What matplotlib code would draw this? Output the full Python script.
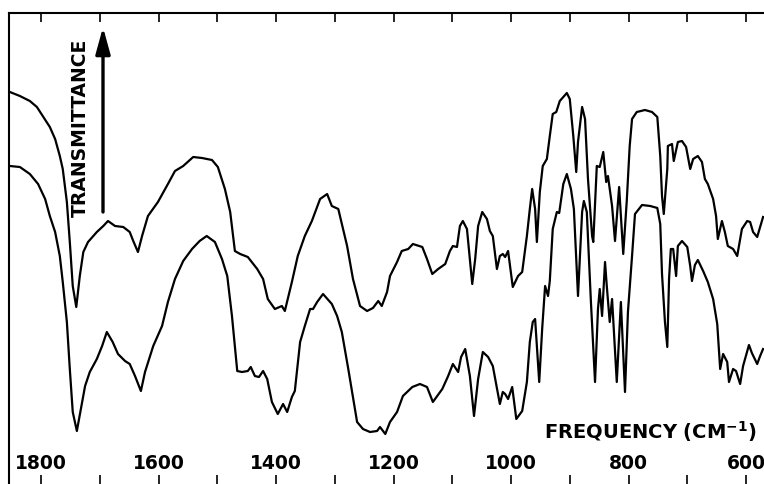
"""
IR spectra, two samples, transmittance vs frequency
"""
import matplotlib
matplotlib.use('Agg')
from matplotlib import pyplot as plt
from matplotlib.ticker import MultipleLocator

# upper trace: frequency (cm-1) and relative transmittance (arb. units)
upper_wn = [1853, 1836, 1819, 1807, 1797, 1785, 1776, 1768, 1763, 1756, 1751, 1746, 1740, 1734, 1728, 1720,
            1705, 1694, 1686, 1674, 1660, 1649, 1643, 1635, 1628, 1618, 1601, 1584, 1572, 1558, 1541, 1526,
            1509, 1499, 1487, 1478, 1470, 1461, 1448, 1436, 1432, 1422, 1414, 1402, 1390, 1385, 1373, 1363,
            1351, 1339, 1325, 1313, 1305, 1294, 1279, 1269, 1257, 1245, 1235, 1226, 1220, 1211, 1206, 1194,
            1186, 1175, 1167, 1151, 1143, 1134, 1124, 1112, 1104, 1099, 1092, 1087, 1082, 1075, 1066, 1061,
            1056, 1049, 1041, 1036, 1031, 1024, 1019, 1014, 1010, 1005, 997, 988, 981, 973, 968, 964,
            959, 956, 951, 946, 939, 934, 929, 923, 917, 905, 900, 894, 889, 886, 879, 874,
            869, 862, 860, 854, 849, 843, 838, 835, 828, 823, 816, 809, 803, 798, 794, 786,
            772, 760, 751, 746, 743, 740, 734, 733, 726, 723, 716, 709, 702, 695, 690, 682,
            675, 670, 665, 656, 651, 648, 641, 636, 631, 622, 615, 607, 598, 593, 588, 581,
            576, 571]
upper_t = [392, 388, 383, 377, 368, 357, 345, 328, 315, 282, 242, 198, 177, 208, 232, 242,
           252, 258, 263, 258, 257, 252, 243, 232, 248, 268, 282, 300, 313, 318, 327, 326,
           324, 317, 295, 272, 233, 230, 227, 218, 215, 205, 185, 175, 178, 173, 202, 228,
           248, 263, 285, 290, 278, 275, 238, 205, 178, 173, 176, 183, 178, 192, 208, 222,
           233, 235, 240, 237, 225, 210, 215, 220, 233, 238, 237, 258, 263, 255, 200, 225,
           258, 272, 265, 253, 248, 215, 228, 230, 227, 233, 197, 208, 212, 248, 275, 295,
           275, 242, 292, 318, 325, 348, 370, 372, 383, 391, 385, 348, 312, 342, 377, 365,
           305, 248, 242, 318, 317, 332, 302, 308, 278, 243, 297, 230, 283, 338, 365, 372,
           374, 372, 367, 328, 288, 270, 315, 338, 340, 323, 342, 343, 337, 315, 325, 328,
           322, 305, 300, 285, 268, 245, 263, 252, 238, 235, 228, 255, 263, 262, 252, 247,
           257, 267]

# lower trace
lower_wn = [1853, 1836, 1819, 1805, 1793, 1785, 1776, 1768, 1763, 1756, 1751, 1746, 1739, 1730, 1725, 1717,
            1705, 1696, 1688, 1678, 1669, 1657, 1649, 1640, 1630, 1623, 1609, 1594, 1584, 1572, 1558, 1543,
            1530, 1518, 1504, 1492, 1483, 1475, 1466, 1458, 1448, 1443, 1436, 1429, 1422, 1415, 1407, 1397,
            1388, 1381, 1373, 1368, 1359, 1351, 1342, 1337, 1330, 1320, 1305, 1296, 1288, 1277, 1262, 1252,
            1240, 1228, 1223, 1214, 1206, 1194, 1184, 1168, 1155, 1143, 1133, 1117, 1107, 1099, 1090, 1085,
            1078, 1070, 1063, 1056, 1048, 1039, 1031, 1019, 1014, 1010, 1005, 998, 991, 981, 973, 968,
            963, 959, 952, 947, 942, 937, 934, 929, 922, 918, 911, 905, 898, 893, 886, 879,
            876, 871, 864, 857, 852, 849, 845, 840, 837, 832, 828, 820, 813, 806, 801, 794,
            789, 777, 763, 751, 746, 743, 738, 734, 731, 728, 724, 719, 716, 709, 700, 695,
            692, 687, 682, 673, 665, 656, 649, 644, 639, 632, 629, 622, 617, 610, 605, 595,
            590, 581, 576, 571]
lower_t = [318, 317, 310, 300, 285, 268, 252, 228, 202, 162, 115, 72, 53, 82, 98, 112,
           125, 138, 152, 142, 130, 123, 120, 108, 93, 112, 138, 158, 182, 205, 223, 235,
           243, 248, 242, 225, 208, 168, 113, 112, 113, 117, 108, 107, 113, 105, 82, 70,
           80, 72, 87, 93, 142, 158, 175, 175, 182, 190, 180, 168, 152, 115, 62, 55,
           52, 53, 57, 50, 62, 72, 88, 97, 100, 97, 82, 95, 108, 120, 112, 127,
           135, 108, 68, 105, 132, 127, 118, 80, 92, 90, 85, 97, 65, 73, 102, 142,
           162, 165, 102, 155, 198, 188, 203, 255, 272, 271, 300, 310, 295, 275, 188, 272,
           283, 272, 182, 102, 175, 195, 168, 222, 198, 162, 185, 102, 182, 92, 172, 228,
           270, 279, 278, 276, 260, 210, 162, 137, 205, 235, 235, 208, 238, 243, 237, 218,
           203, 219, 224, 213, 202, 185, 160, 115, 130, 122, 102, 115, 113, 100, 118, 139,
           131, 120, 128, 135]

tick_major = [1800, 1600, 1400, 1200, 1000, 800, 600]

fig = plt.figure(figsize=(7.64, 4.85), dpi=100)
ax = fig.add_axes([9 / 764, 0, 755 / 764, 471 / 485])

ax.plot(upper_wn, upper_t, color='black', lw=1.6)
ax.plot(lower_wn, lower_t, color='black', lw=1.6)

ax.set_xlim(1854.5, 569.4)
ax.set_ylim(0, 471)

ax.spines['right'].set_visible(False)
ax.spines['bottom'].set_visible(False)
ax.spines['left'].set_linewidth(1.5)
ax.spines['top'].set_linewidth(1.5)

ax.set_xticks(tick_major)
ax.set_xticklabels([str(t) for t in tick_major], fontweight='bold')
ax.xaxis.set_minor_locator(MultipleLocator(100))
ax.tick_params(axis='x', which='both', direction='in', top=True, bottom=True, length=6.5, width=1.2)
ax.tick_params(axis='x', which='major', pad=-22, labelsize=13.5)
ax.set_yticks([])

ax.text(0.9907, 0.1125, r'FREQUENCY (CM$^{\mathbf{-1}}$)', transform=ax.transAxes,
        ha='right', va='center', fontsize=14, fontweight='bold')
ax.text(0.094, 0.759, 'TRANSMITTANCE', transform=ax.transAxes, rotation=90,
        ha='center', va='center', fontsize=13.5, fontweight='bold')
ax.annotate('', xy=(0.1245, 0.970), xytext=(0.1245, 0.5775), xycoords='axes fraction',
            arrowprops=dict(arrowstyle='-|>,head_length=0.8,head_width=0.22', lw=2.4,
                            color='black', mutation_scale=20, shrinkA=0, shrinkB=0))

fig.savefig('out.png', dpi=100)
